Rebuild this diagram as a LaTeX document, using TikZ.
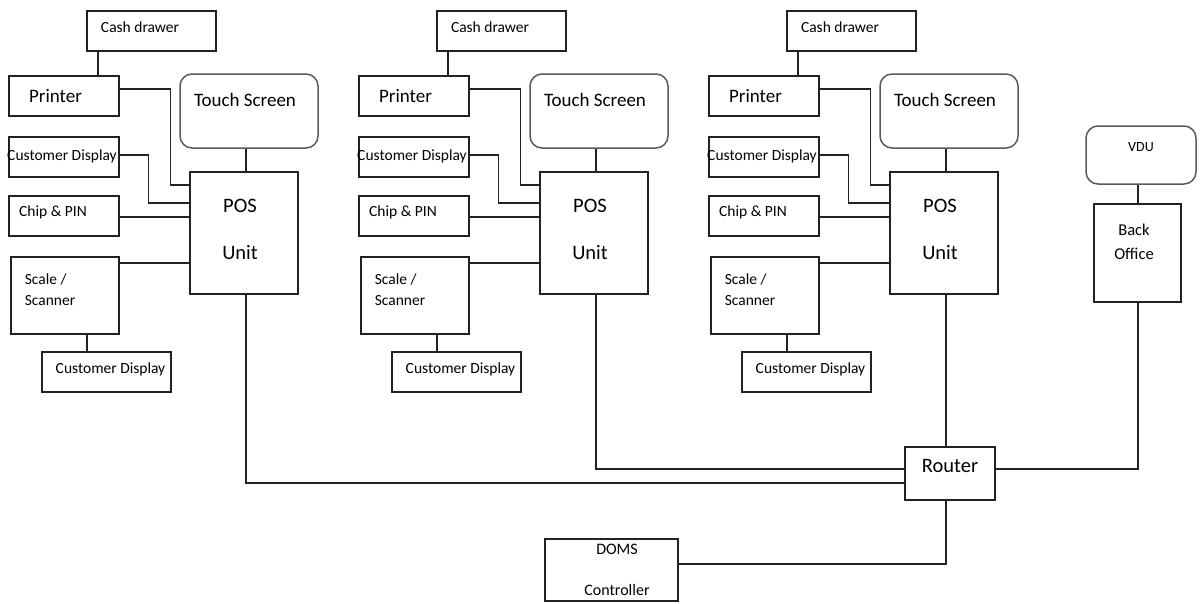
\documentclass[tikz,border=0pt]{standalone}
\usepackage{fontspec}
\setmainfont{Carlito}
\usepackage{tikz}
\definecolor{poslines}{RGB}{34,34,34}
\definecolor{posround}{RGB}{90,90,90}
\tikzset{
  box/.style={draw=poslines, line width=1.3pt, inner sep=0pt, minimum width=110, minimum height=40},
  rbox/.style={draw=posround, line width=1.5pt, rounded corners=12pt, inner sep=0pt},
  wire/.style={poslines, line width=1.3pt},
  small/.style={font=\fontsize{15.5}{19}\selectfont},
  big/.style={font=\fontsize{19}{23}\selectfont}
}

\begin{document}
\begin{tikzpicture}[x=1pt,y=-1pt]
\useasboundingbox (0,0) rectangle (1200,603);
% the three tills
\foreach \g/\dx in {a/0,b/350,c/700} {
  \node[box, minimum width=129, label={[small,xshift=-11.5,yshift=4]center:Cash drawer}] (cash\g) at (151.5+\dx,31) {};
  \node[box, label={[big,xshift=-8.5]center:Printer}] (prt\g) at (64+\dx,96) {};
  \node[rbox, minimum width=138, minimum height=74, label={[big,xshift=-4,yshift=11]center:Touch Screen}] (touch\g) at (249+\dx,111) {};
  \node[box, label={[small,xshift=-2,yshift=1]center:Customer Display}] (cdisp\g) at (64+\dx,157) {};
  \node[box, label={[small,xshift=-11,yshift=4]center:Chip \& PIN}] (chip\g) at (64+\dx,216) {};
  \node[box, minimum width=108, minimum height=77, label={[small,align=left,xshift=-15,yshift=6]center:Scale /\\[2pt]Scanner}] (scale\g) at (65+\dx,295.5) {};
  \node[box, minimum width=129, label={[small,xshift=4,yshift=3]center:Customer Display}] (sdisp\g) at (106.5+\dx,372) {};
  \node[box, minimum width=108, minimum height=122, label={[font=\fontsize{20.5}{24}\selectfont,align=center,xshift=-4,yshift=3.5]center:POS\\[23pt]Unit}] (pos\g) at (244+\dx,233) {};
  \draw[wire] ([xshift=-53.5]cash\g.south) -- ([xshift=-53.5]cash\g.south |- prt\g.north);
  \draw[wire] ([xshift=2]pos\g.north |- touch\g.south) -- ([xshift=2]pos\g.north);
  \draw[wire] ([yshift=7]prt\g.east) -| ([xshift=-19,yshift=48]pos\g.west) -- ([yshift=48]pos\g.west);
  \draw[wire] ([yshift=2]cdisp\g.east) -| ([xshift=-41,yshift=30]pos\g.west) -- ([yshift=30]pos\g.west);
  \draw[wire] ([yshift=-1]chip\g.east) -- ([yshift=-1]chip\g.east -| pos\g.west);
  \draw[wire] ([yshift=-6.5]scale\g.north east) -- ([yshift=-6.5]scale\g.north east -| pos\g.west);
  \draw[wire] ([xshift=22]scale\g.south) -- ([xshift=22]scale\g.south |- sdisp\g.north);
}
% network
\node[box, minimum width=90, minimum height=53, label={[font=\fontsize{20.5}{24}\selectfont,yshift=7.5]center:Router}] (router) at (950,473.5) {};
\node[rbox, minimum width=110, minimum height=58, label={[font=\fontsize{14}{17}\selectfont,yshift=8]center:VDU}] (vdu) at (1141,155) {};
\node[box, minimum width=87, minimum height=98, label={[font=\fontsize{16.5}{24}\selectfont,align=center,xshift=-3.5,yshift=11]center:Back\\Office}] (back) at (1137.5,253) {};
\node[box, minimum width=133, minimum height=62, label={[font=\fontsize{16}{19.5}\selectfont,align=center,xshift=5.5]center:DOMS\\[21.5pt]Controller}] (doms) at (611.5,570) {};
\draw[wire] ([xshift=2]posa.south) |- ([yshift=-9.5]router.west);
\draw[wire] ([xshift=2]posb.south) |- ([yshift=4.5]router.west);
\draw[wire] ([xshift=2]posc.south) -- ([xshift=2]posc.south |- router.north);
\draw[wire] ([xshift=0.5]back.north |- vdu.south) -- ([xshift=0.5]back.north);
\draw[wire] ([xshift=0.5]back.south) |- ([yshift=4.5]router.east);
\draw[wire] ([xshift=-4]router.south) |- ([yshift=6]doms.east);
\end{tikzpicture}
\end{document}
